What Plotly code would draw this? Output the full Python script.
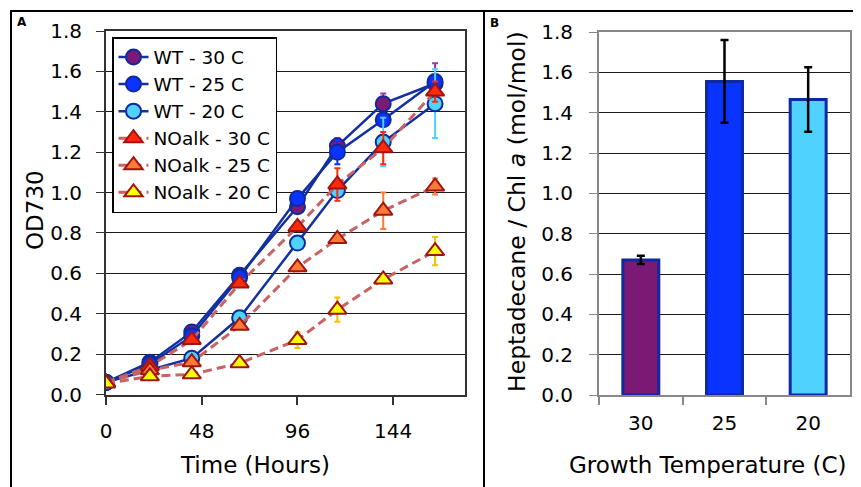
import plotly.graph_objects as go

# ---------------- data ----------------
hours = [0, 22, 43, 67, 96, 116, 139, 165]
series_names = ["WT - 30 C", "WT - 25 C", "WT - 20 C",
                "NOalk - 30 C", "NOalk - 25 C", "NOalk - 20 C"]
wt30 = [0.06, 0.16, 0.31, 0.59, 0.93, 1.23, 1.44, 1.54]
wt25 = [0.06, 0.15, 0.29, 0.58, 0.97, 1.20, 1.36, 1.55]
wt20 = [0.06, 0.12, 0.18, 0.38, 0.75, 1.01, 1.25, 1.44]
no30 = [0.06, 0.14, 0.27, 0.55, 0.83, 1.04, 1.22, 1.50]
no25 = [0.06, 0.12, 0.16, 0.34, 0.63, 0.77, 0.91, 1.03]
no20 = [0.055, 0.09, 0.10, 0.155, 0.27, 0.42, 0.57, 0.71]
wt30_err = [0, 0.01, 0.01, 0.01, 0.01, 0.04, 0.05, 0.10]
wt25_err = [0, 0.01, 0.01, 0.01, 0.01, 0.06, 0.03, 0.02]
wt20_err = [0, 0.01, 0.01, 0.01, 0.01, 0.02, 0.12, 0.17]
no30_err = [0, 0.01, 0.01, 0.01, 0.02, 0.08, 0.08, 0.05]
no25_err = [0, 0.01, 0.01, 0.01, 0.02, 0.02, 0.09, 0.04]
no20_err = [0, 0.01, 0.01, 0.01, 0.04, 0.06, 0.02, 0.07]
x_ticks = [0, 48, 96, 144]

temps = ["30", "25", "20"]
hepta = [0.67, 1.555, 1.465]
hepta_err = [0.02, 0.205, 0.16]

# ---------------- style ----------------
W, H = 861, 487
OFF = 8  # page body margin offset of the plot div
FONT = "DejaVu Sans, Verdana, sans-serif"
purple, blue, lblue = "#7A1A74", "#0A33FF", "#50D2FF"
red, orange, yellow = "#FF2A0A", "#FF7A35", "#FFFF00"
circ_edge, tri_edge = "#0E2A9E", "#A01414"
wt_line, no_line = "#1230A2", "#C96262"


def px_x(p):
    return (p - OFF) / W


def px_y(p):
    return 1 - (p - OFF) / H


fig = go.Figure()

wt_vals = [wt30, wt25, wt20]
wt_errs = [wt30_err, wt25_err, wt20_err]
wt_fill = [purple, blue, lblue]
wt_errc = ["#A03A9A", blue, lblue]
for i in range(3):
    fig.add_trace(go.Scatter(
        x=hours, y=wt_vals[i], name=series_names[i], mode="lines+markers",
        line=dict(color=wt_line, width=2.5),
        marker=dict(symbol="circle", size=15, color=wt_fill[i],
                    line=dict(color=circ_edge, width=2)),
        error_y=dict(type="data", array=wt_errs[i], color=wt_errc[i],
                     thickness=2, width=3),
        xaxis="x", yaxis="y"))

no_vals = [no30, no25, no20]
no_errs = [no30_err, no25_err, no20_err]
no_fill = [red, orange, yellow]
no_errc = [red, orange, "#F2C200"]
for i in range(3):
    fig.add_trace(go.Scatter(
        x=hours, y=no_vals[i], name=series_names[3 + i], mode="lines+markers",
        line=dict(color=no_line, width=3, dash="9px,5px"),
        marker=dict(symbol="triangle-up", size=16, color=no_fill[i],
                    line=dict(color=tri_edge, width=2)),
        error_y=dict(type="data", array=no_errs[i], color=no_errc[i],
                     thickness=2, width=3),
        xaxis="x", yaxis="y"))

fig.add_trace(go.Bar(
    x=temps, y=hepta, width=0.43, showlegend=False,
    marker=dict(color=[purple, blue, lblue], line=dict(color=circ_edge, width=3)),
    error_y=dict(type="data", array=hepta_err, color="black", thickness=2.5, width=4),
    xaxis="x2", yaxis="y2"))

tickfont = dict(family=FONT, size=20, color="black")

fig.update_layout(
    template=None,
    width=W, height=H, autosize=False,
    margin=dict(l=0, r=0, t=0, b=0, pad=0, autoexpand=False),
    paper_bgcolor="white", plot_bgcolor="white",
    font=dict(family=FONT, color="black"),
    showlegend=True,
    legend=dict(x=px_x(112), y=px_y(37), xanchor="left", yanchor="top",
                bgcolor="white", bordercolor="black", borderwidth=1.5,
                font=dict(family=FONT, size=18.5, color="black"),
                itemwidth=30, tracegroupgap=0),
    xaxis=dict(domain=[px_x(106), px_x(465)], range=[0, 180], automargin=False,
               tickvals=x_ticks, ticks="outside", ticklen=8, tickwidth=1.5,
               tickcolor="#333", showgrid=False, zeroline=False,
               showline=True, linecolor="#333", linewidth=2, mirror=True,
               tickfont=tickfont, anchor="y", ticklabelstandoff=9),
    yaxis=dict(domain=[px_y(394.5), px_y(31)], range=[0, 1.8], dtick=0.2,
               automargin=False,
               tickformat=".1f", ticks="outside", ticklen=8, tickwidth=1,
               tickcolor="#333", showgrid=True, gridcolor="#1a1a1a",
               gridwidth=1, zeroline=False, showline=True, linecolor="#333",
               linewidth=2, mirror=True, tickfont=tickfont, anchor="x",
               ticklabelstandoff=10),
    xaxis2=dict(domain=[px_x(599), px_x(850)], type="category", automargin=False,
                categoryorder="array", categoryarray=temps,
                tickson="boundaries", ticks="outside", ticklen=8,
                tickwidth=1.5, tickcolor="#888", showgrid=False,
                showline=True, linecolor="#888", linewidth=2, mirror=True,
                tickfont=tickfont, anchor="y2", ticklabelstandoff=9),
    yaxis2=dict(domain=[px_y(395), px_y(32)], range=[0, 1.8], dtick=0.2,
                automargin=False,
                tickformat=".1f", ticks="outside", ticklen=8, tickwidth=1,
                tickcolor="#888", showgrid=True, gridcolor="#1a1a1a",
                gridwidth=1, zeroline=False, showline=True, linecolor="#888",
                linewidth=2, mirror=True, tickfont=tickfont, anchor="x2",
                ticklabelstandoff=12),
)

title_font = dict(family=FONT, size=23, color="black")
annotations = [
    dict(text="OD730", x=px_x(35), y=px_y(210), textangle=-90, font=title_font),
    dict(text="Time (Hours)", x=px_x(255), y=px_y(465), font=title_font),
    dict(text="Heptadecane / Chl <i>a</i> (mol/mol)", x=px_x(517), y=px_y(212),
         textangle=-90, font=dict(family=FONT, size=23.5, color="black")),
    dict(text="Growth Temperature (C)", x=px_x(708), y=px_y(465), font=title_font),
    dict(text="<b>A</b>", x=px_x(22), y=px_y(22), font=dict(family=FONT, size=12)),
    dict(text="<b>B</b>", x=px_x(494), y=px_y(23), font=dict(family=FONT, size=12)),
]
for a in annotations:
    a.update(xref="paper", yref="paper", showarrow=False,
             xanchor="center", yanchor="middle")
fig.update_layout(annotations=annotations)

frame = dict(color="black", width=2)
fig.update_layout(shapes=[
    dict(type="line", xref="paper", yref="paper", x0=px_x(10), x1=1,
         y0=px_y(11), y1=px_y(11), line=frame),
    dict(type="line", xref="paper", yref="paper", x0=px_x(11), x1=px_x(11),
         y0=px_y(11), y1=0, line=frame),
    dict(type="line", xref="paper", yref="paper", x0=px_x(484), x1=px_x(484),
         y0=px_y(11), y1=0, line=frame),
])

fig.write_html("out.html")
